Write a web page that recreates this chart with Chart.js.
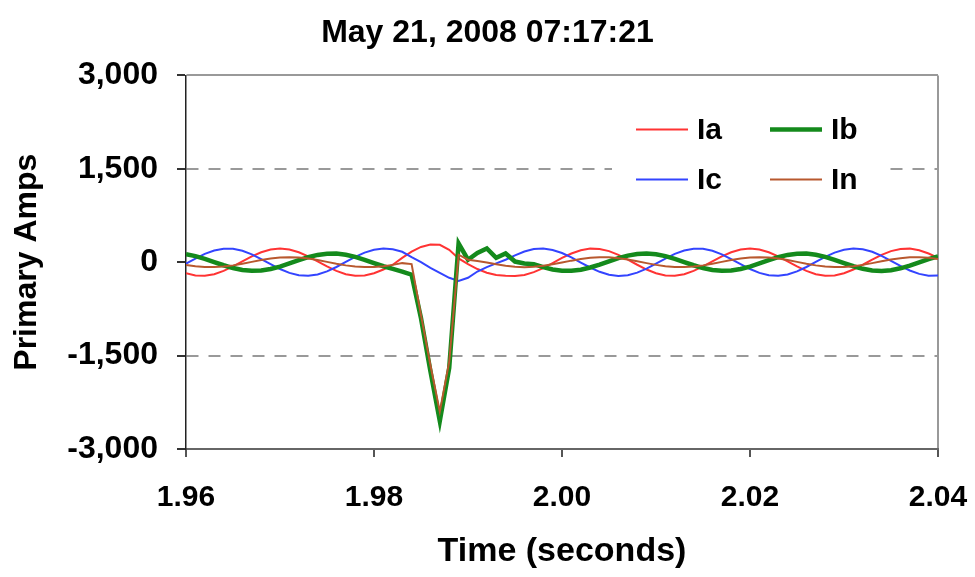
<!DOCTYPE html>
<html lang="en">
<head>
<meta charset="UTF-8">
<title>May 21, 2008 07:17:21</title>
<script src="https://cdn.jsdelivr.net/npm/chart.js"></script>
<style>
  html, body { margin: 0; padding: 0; background: #fff; }
  #wrap { width: 975px; height: 577px; }
</style>
</head>
<body>
<div id="wrap"><canvas id="myChart"></canvas></div>
<script>
// sample times, 1 ms apart, 1.960 .. 2.040 s
const t0 = 1.96, dt = 0.001, nSamples = 81;
const times = Array.from({ length: nSamples }, (_, i) => +(t0 + i * dt).toFixed(3));

// primary amps
const ia = [-178, -213, -218, -193, -140, -68, 14, 94, 160, 205,
  220, 205, 160, 94, 14, -68, -140, -193, -218, -213,
  -178, -118, -41, 70, 170, 245, 285, 280, 200, 60,
  -30, -110, -170, -205, -218, -220, -205, -160, -94, -14,
  68, 140, 193, 218, 213, 178, 118, 41, -41, -118,
  -178, -213, -218, -193, -140, -68, 14, 94, 160, 205,
  220, 205, 160, 94, 14, -68, -140, -193, -218, -213,
  -178, -118, -41, 41, 118, 178, 213, 218, 193, 140, 68];

const ib = [128, 98, 54, 3, -49, -94, -125, -139, -134, -110,
  -70, -20, 32, 80, 117, 137, 138, 120, 85, 38,
  -15, -65, -106, -150, -200, -900, -1750, -2550, -1700, 300,
  40, 150, 220, 70, 140, 10, -20, -32, -80, -117,
  -137, -138, -120, -85, -38, 15, 65, 106, 132, 140,
  128, 98, 54, 3, -49, -94, -125, -139, -134, -110,
  -70, -20, 32, 80, 117, 137, 138, 120, 85, 38,
  -15, -65, -106, -132, -140, -128, -98, -54, -3, 49, 94];

const ic = [-23, 59, 133, 188, 217, 215, 183, 126, 50, -32,
  -110, -172, -211, -219, -197, -147, -77, 5, 85, 154,
  201, 220, 208, 167, 80, 0, -90, -170, -250, -300,
  -250, -150, -80, -20, 40, 110, 172, 211, 219, 197,
  147, 77, -5, -85, -154, -201, -220, -208, -167, -102,
  -23, 59, 133, 188, 217, 215, 183, 126, 50, -32,
  -110, -172, -211, -219, -197, -147, -77, 5, 85, 154,
  201, 220, 208, 167, 102, 23, -59, -133, -188, -217, -215];

const inn = [-43, -65, -78, -79, -70, -51, -25, 5, 34, 58,
  74, 80, 74, 58, 34, 5, -25, -51, -70, -79,
  -78, -65, -43, -15, -30, -850, -1650, -2400, -1600, 120,
  40, 20, -5, -34, -58, -74, -80, -74, -58, -34,
  -5, 25, 51, 70, 79, 78, 65, 43, 15, -15,
  -43, -65, -78, -79, -70, -51, -25, 5, 34, 58,
  74, 80, 74, 58, 34, 5, -25, -51, -70, -79,
  -78, -65, -43, -15, 15, 43, 65, 78, 79, 70, 51];

const seriesNames = ['Ia', 'Ib', 'Ic', 'In'];
const yTicks = [-3000, -1500, 0, 1500, 3000];
const xTicks = [1.96, 1.98, 2.00, 2.02, 2.04];

const FONT = '"Liberation Sans", Arial, Helvetica, sans-serif';

const pts = (vals) => vals.map((v, i) => ({ x: times[i], y: v }));

// legend drawn as a 2x2 box inside the plot, top right
const boxLegend = {
  id: 'boxLegend',
  afterDatasetsDraw(chart) {
    const { ctx, chartArea } = chart;
    const x0 = chartArea.right - 326, y0 = chartArea.top + 28;
    ctx.save();
    ctx.fillStyle = '#fff';
    ctx.fillRect(x0, y0, 276, 100);
    ctx.font = 'bold 30px ' + FONT;
    ctx.textBaseline = 'middle';
    ctx.textAlign = 'left';
    chart.data.datasets.forEach((ds, i) => {
      const col = i % 2, row = Math.floor(i / 2);
      const lx = x0 + 24 + col * 134;
      const ly = y0 + 26 + row * 50;
      ctx.strokeStyle = ds.borderColor;
      ctx.lineWidth = ds.borderWidth;
      ctx.beginPath();
      ctx.moveTo(lx, ly);
      ctx.lineTo(lx + 52, ly);
      ctx.stroke();
      ctx.fillStyle = '#000';
      ctx.fillText(ds.label, lx + 61, ly + 1);
    });
    ctx.restore();
  }
};

const ctx = document.getElementById('myChart').getContext('2d');
new Chart(ctx, {
  type: 'line',
  data: {
    datasets: [
      { label: seriesNames[0], data: pts(ia), borderColor: '#ff3333', borderWidth: 2, order: 4 },
      { label: seriesNames[1], data: pts(ib), borderColor: '#148a1c', borderWidth: 4.5, order: 2 },
      { label: seriesNames[2], data: pts(ic), borderColor: '#3344ff', borderWidth: 2, order: 3 },
      { label: seriesNames[3], data: pts(inn), borderColor: '#b8582e', borderWidth: 2, order: 1 },
    ],
  },
  options: {
    responsive: true,
    maintainAspectRatio: false,
    animation: false,
    elements: { point: { radius: 0 }, line: { tension: 0 } },
    layout: { padding: 0 },
    plugins: {
      legend: { display: false },
      tooltip: { enabled: false },
      title: {
        display: true,
        text: 'May 21, 2008 07:17:21',
        color: '#000',
        font: { family: FONT, size: 32, weight: 'bold' },
        padding: { top: 14, bottom: 23 },
      },
    },
    scales: {
      x: {
        type: 'linear',
        min: xTicks[0],
        max: xTicks[xTicks.length - 1],
        afterBuildTicks: (scale) => { scale.ticks = xTicks.map(v => ({ value: v })); },
        afterFit: (scale) => {
          scale.height = 128;
          scale.paddingLeft = 0;
          scale.paddingRight = 37;
        },
        ticks: {
          color: '#000',
          font: { family: FONT, size: 30, weight: 'bold' },
          padding: 23,
          maxRotation: 0,
          callback: (v) => Number(v).toFixed(2),
        },
        grid: {
          color: (c) => c.index === xTicks.length - 1 ? '#999' : 'rgba(0,0,0,0)',
          lineWidth: 2,
          tickColor: '#555',
          tickLength: 8,
        },
        border: { color: '#666', width: 2 },
        title: {
          display: true,
          text: 'Time (seconds)',
          color: '#000',
          font: { family: FONT, size: 34, weight: 'bold' },
          padding: { top: 4, bottom: 5 },
        },
      },
      y: {
        min: yTicks[0],
        max: yTicks[yTicks.length - 1],
        afterBuildTicks: (scale) => { scale.ticks = yTicks.map(v => ({ value: v })); },
        afterFit: (scale) => { scale.width = 186; },
        ticks: {
          color: '#000',
          font: { family: FONT, size: 32, weight: 'bold' },
          padding: 19,
          callback: (v) => Number(v).toLocaleString('en-US'),
        },
        grid: {
          color: (c) => (c.tick && (Math.abs(c.tick.value) === 1500 || c.tick.value === 3000)) ? '#999' : 'rgba(0,0,0,0)',
          lineWidth: 2,
          tickColor: '#333',
          tickLength: 9,
        },
        border: {
          color: '#222',
          width: 1.5,
          dash: (c) => (c.tick && c.tick.value === 3000) ? [] : [12, 10],
        },
        title: {
          display: true,
          text: 'Primary Amps',
          color: '#000',
          font: { family: FONT, size: 32, weight: 'bold' },
          padding: { top: 8, bottom: 4 },
        },
      },
    },
  },
  plugins: [boxLegend],
});
</script>
</body>
</html>
